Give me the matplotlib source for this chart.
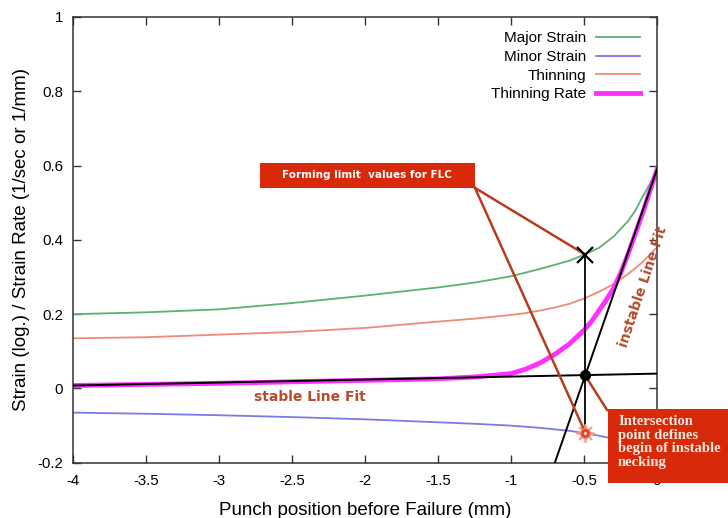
"""
Punch position vs. strain / strain rate — FLC line-fit chart.
"""

import matplotlib
matplotlib.use("Agg")
import matplotlib.pyplot as plt
from matplotlib.patches import Rectangle
from matplotlib.ticker import FuncFormatter

# ---------------------------------------------------------------------------
# data
# ---------------------------------------------------------------------------

PUNCH_POS = [-4, -3.5, -3, -2.5, -2, -1.5, -1.25, -1, -0.9, -0.8, -0.7,
             -0.6, -0.5, -0.4, -0.3, -0.2, -0.15, -0.1, -0.05, 0]

MAJOR_STRAIN = [0.200, 0.205, 0.213, 0.230, 0.250, 0.272, 0.285, 0.302,
                0.312, 0.322, 0.333, 0.344, 0.360, 0.378, 0.408, 0.450,
                0.478, 0.515, 0.550, 0.590]

MINOR_STRAIN = [-0.065, -0.068, -0.072, -0.077, -0.083, -0.091, -0.095,
                -0.100, -0.103, -0.106, -0.110, -0.114, -0.120, -0.127,
                -0.135, -0.145, -0.151, -0.158, -0.166, -0.175]

THINNING = [0.135, 0.138, 0.145, 0.152, 0.163, 0.180, 0.188, 0.198, 0.203,
            0.210, 0.218, 0.228, 0.242, 0.260, 0.280, 0.308, 0.323, 0.340,
            0.360, 0.380]

RATE_POS = [-4, -3.5, -3, -2.5, -2, -1.5, -1.25, -1, -0.9, -0.8, -0.7,
            -0.6, -0.5, -0.45, -0.4, -0.35, -0.3, -0.25, -0.2, -0.15,
            -0.1, -0.05, 0]

THINNING_RATE = [0.008, 0.011, 0.014, 0.018, 0.022, 0.026, 0.031, 0.040,
                 0.052, 0.069, 0.092, 0.120, 0.157, 0.180, 0.208, 0.237,
                 0.268, 0.310, 0.360, 0.415, 0.470, 0.530, 0.590]

# straight line fits (end points)
STABLE_FIT_X = [-4, 0]
STABLE_FIT_Y = [0.008, 0.040]
INSTABLE_FIT_X = [-0.70, 0]
INSTABLE_FIT_Y = [-0.20, 0.59]

# forming limit point
FLC_X = -0.49
FLC_MAJOR = 0.36
FLC_MINOR = -0.12
FLC_CROSS = 0.036

X_TICKS = [-4, -3.5, -3, -2.5, -2, -1.5, -1, -0.5, 0]
Y_TICKS = [-0.2, 0, 0.2, 0.4, 0.6, 0.8, 1]

# ---------------------------------------------------------------------------
# style
# ---------------------------------------------------------------------------

plt.rcParams["font.family"] = ["Liberation Sans", "DejaVu Sans"]
plt.rcParams["axes.unicode_minus"] = False

GREEN = "#5cb070"
BLUE = "#7a7ae8"
SALMON = "#f08a78"
MAGENTA = "#ff30ff"
CALLOUT_RED = "#d8290a"
CALLOUT_LINE = "#b83c20"
NOTE_COLOR = "#b54a2c"

fig = plt.figure(figsize=(7.28, 5.18), dpi=100)
ax = fig.add_axes([0.1003, 0.1066, 0.8022, 0.8606])

ax.plot(PUNCH_POS, MAJOR_STRAIN, color=GREEN, lw=1.3, label="Major Strain")
ax.plot(PUNCH_POS, MINOR_STRAIN, color=BLUE, lw=1.3, label="Minor Strain")
ax.plot(PUNCH_POS, THINNING, color=SALMON, lw=1.3, label="Thinning")
ax.plot(RATE_POS, THINNING_RATE, color=MAGENTA, lw=3.5, label="Thinning Rate")

ax.plot(STABLE_FIT_X, STABLE_FIT_Y, color="black", lw=1.4, zorder=4)
ax.plot(INSTABLE_FIT_X, INSTABLE_FIT_Y, color="black", lw=1.4, zorder=4)

# callout leader lines
box1_corner = (-1.247, 0.54)
ax.plot([box1_corner[0], FLC_X], [box1_corner[1], FLC_MAJOR],
        color=CALLOUT_LINE, lw=1.8, zorder=5, clip_on=False)
ax.plot([box1_corner[0], FLC_X], [box1_corner[1], FLC_MINOR],
        color=CALLOUT_LINE, lw=1.8, zorder=5, clip_on=False)
ax.plot([-0.342, -0.473], [-0.058, 0.023],
        color=CALLOUT_LINE, lw=1.8, zorder=5, clip_on=False)

# vertical FLC line and markers
ax.plot([FLC_X, FLC_X], [FLC_MINOR, FLC_MAJOR], color="black", lw=1.3, zorder=6)
ax.plot(FLC_X, FLC_MAJOR, marker="x", color="black", ms=11, mew=1.6, zorder=7)
ax.plot(FLC_X, FLC_CROSS, marker="o", color="black", ms=7, zorder=7)
ax.plot(FLC_X, FLC_MINOR, marker=(8, 2, 0), color="#f4a090", ms=13, mew=1.3, zorder=7)
ax.plot(FLC_X, FLC_MINOR, marker="o", color="#ee3a1c", ms=7, mec="#f5806a", zorder=8)
ax.plot(FLC_X, FLC_MINOR, marker="o", color="#ffd8c8", ms=2.5, mew=0, zorder=9)

# callout boxes
ax.add_patch(Rectangle((-2.72, 0.54), 1.473, 0.067, facecolor=CALLOUT_RED,
                       edgecolor="none", zorder=10, clip_on=False))
ax.text(-2.568, 0.575, "Forming limit  values for FLC", color="white",
        fontsize=7.5, fontweight="bold", family="DejaVu Sans",
        ha="left", va="center", zorder=11)

ax.add_patch(Rectangle((-0.336, -0.254), 0.9, 0.199, facecolor=CALLOUT_RED,
                       edgecolor="none", zorder=10, clip_on=False))
ax.text(-0.267, -0.071,
        "Intersection\npoint defines\nbegin of instable\nnecking",
        color="#fbe9dc", fontsize=10.5, fontweight="bold",
        family="Liberation Serif", ha="left", va="top",
        linespacing=1.07, zorder=11, clip_on=False)

# line-fit labels
ax.text(-2.38, -0.024, "stable Line Fit", color=NOTE_COLOR, fontsize=10,
        fontweight="bold", family="DejaVu Sans", ha="center", va="center")
ax.text(-0.096, 0.273, "instable Line Fit", color=NOTE_COLOR, fontsize=10,
        fontweight="bold", family="DejaVu Sans", rotation=71.6,
        rotation_mode="anchor", ha="center", va="center", clip_on=False,
        zorder=6)

# axes
ax.set_xlim(-4, 0)
ax.set_ylim(-0.2, 1)
ax.set_xticks(X_TICKS)
ax.set_yticks(Y_TICKS)
fmt = FuncFormatter(lambda v, pos: f"{v:g}")
ax.xaxis.set_major_formatter(fmt)
ax.yaxis.set_major_formatter(fmt)
ax.tick_params(direction="in", length=6, width=1, top=True, right=True,
               labelsize=10.8, color="#333333")
ax.tick_params(axis="x", pad=8)
ax.tick_params(axis="y", pad=7)
for spine in ax.spines.values():
    spine.set_color("#333333")
    spine.set_linewidth(1.1)

ax.set_xlabel("Punch position before Failure (mm)", fontsize=13.5, labelpad=10)
ax.set_ylabel("Strain (log.) / Strain Rate (1/sec or 1/mm)", fontsize=13.5,
              labelpad=5)

ax.legend(loc="upper right", bbox_to_anchor=(0.971, 0.968), frameon=False,
          markerfirst=False, fontsize=11, handlelength=2.9,
          handletextpad=0.6, labelspacing=0.31, borderpad=0,
          borderaxespad=0)

fig.savefig("out.png", dpi=100)
plt.close(fig)
